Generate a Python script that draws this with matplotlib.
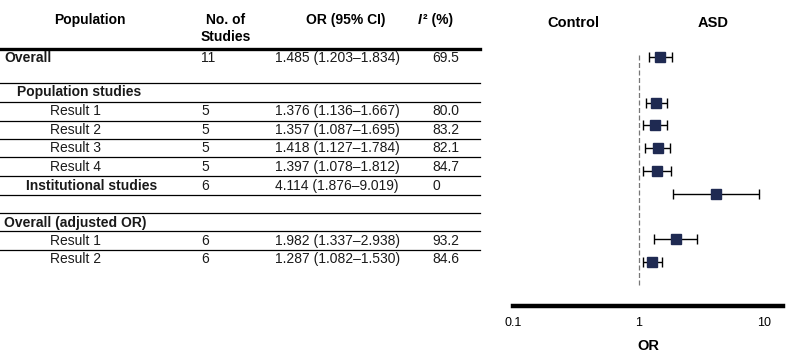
import numpy as np
import matplotlib.pyplot as plt
from matplotlib.lines import Line2D

plt.rcParams['font.family'] = ['Liberation Sans', 'DejaVu Sans']

# table rows
labels = ["Overall", "Population studies", "Result 1", "Result 2", "Result 3", "Result 4",
          "Institutional studies", "Overall (adjusted OR)", "Result 1", "Result 2"]
label_bold = [True, True, False, False, False, False, True, True, False, False]
label_x = [4, 17, 50, 50, 50, 50, 26, 4, 50, 50]
n_studies = ["11", "", "5", "5", "5", "5", "6", "", "6", "6"]
or_text = ["1.485 (1.203\u20131.834)", "", "1.376 (1.136\u20131.667)", "1.357 (1.087\u20131.695)",
           "1.418 (1.127\u20131.784)", "1.397 (1.078\u20131.812)", "4.114 (1.876\u20139.019)", "",
           "1.982 (1.337\u20132.938)", "1.287 (1.082\u20131.530)"]
i2_text = ["69.5", "", "80.0", "83.2", "82.1", "84.7", "0", "", "93.2", "84.6"]
row_y = [58, 92, 111, 130, 148, 167, 186, 223, 241, 259]
rule_y = [83, 102, 121, 139, 157, 176, 195, 213, 231, 250]

# forest plot data
or_val = [1.485, 1.376, 1.357, 1.418, 1.397, 4.114, 1.982, 1.287]
ci_lo = [1.203, 1.136, 1.087, 1.127, 1.078, 1.876, 1.337, 1.082]
ci_hi = [1.834, 1.667, 1.695, 1.784, 1.812, 9.019, 2.938, 1.530]
plot_pos = [0, 2, 3, 4, 5, 6, 8, 9]

W, H = 794, 358
fig = plt.figure(figsize=(W / 100, H / 100), dpi=100)


def fx(x):
    return x / W


def fy(y):
    return 1 - y / H


fs = 10
txt = "#1a1a1a"
# header
fig.text(fx(90), fy(20), "Population", ha="center", va="center", fontsize=fs, fontweight="bold")
fig.text(fx(226), fy(20), "No. of", ha="center", va="center", fontsize=fs, fontweight="bold")
fig.text(fx(226), fy(37), "Studies", ha="center", va="center", fontsize=fs, fontweight="bold")
fig.text(fx(346), fy(20), "OR (95% CI)", ha="center", va="center", fontsize=fs, fontweight="bold")
fig.text(fx(418), fy(20), "I", ha="left", va="center", fontsize=fs, fontweight="bold",
         fontstyle="italic")
fig.text(fx(423), fy(20), "\u00b2 (%)", ha="left", va="center", fontsize=fs, fontweight="bold")

for i in range(len(labels)):
    y = fy(row_y[i])
    fig.text(fx(label_x[i]), y, labels[i], ha="left", va="center", fontsize=fs, color=txt,
             fontweight="bold" if label_bold[i] else "normal")
    fig.text(fx(201), y, n_studies[i], ha="left", va="center", fontsize=fs, color=txt)
    fig.text(fx(275), y, or_text[i], ha="left", va="center", fontsize=fs, color=txt)
    fig.text(fx(432), y, i2_text[i], ha="left", va="center", fontsize=fs, color=txt)

fig.add_artist(Line2D([0, fx(480)], [fy(49), fy(49)], color="black", lw=2.4))
for ry in rule_y:
    fig.add_artist(Line2D([0, fx(480)], [fy(ry), fy(ry)], color="black", lw=0.9))

# forest plot
x0, x1 = 513, 783
ytop, ybot = 40, 306
pitch = 22.8
ax = fig.add_axes([fx(x0), fy(ybot), (x1 - x0) / W, (ybot - ytop) / H])
ax.set_xscale("log")
ax.set_xlim(0.1, 14.1)
ax.set_ylim((ybot - 57) / pitch, (ytop - 57) / pitch)

ax.vlines(1, -0.1, 10.0, colors="#777777", linestyles=(0, (4, 2)), lw=0.9)
xerr = [np.array(or_val) - np.array(ci_lo), np.array(ci_hi) - np.array(or_val)]
ax.errorbar(or_val, plot_pos, xerr=xerr, fmt="s", color="#1f2a52", ms=6.5,
            ecolor="black", elinewidth=1, capsize=3.5, capthick=1)

for s in ["top", "left", "right"]:
    ax.spines[s].set_visible(False)
ax.spines["bottom"].set_linewidth(3.2)
ax.set_yticks([])
ax.set_xticks([0.1, 1, 10])
ax.set_xticklabels(["0.1", "1", "10"])
ax.xaxis.set_minor_locator(plt.NullLocator())
ax.tick_params(axis="x", length=0, pad=8, labelsize=9)
ax.set_xlabel("OR", fontsize=10.5, fontweight="bold", labelpad=7)

fig.text(fx(573), fy(23), "Control", ha="center", va="center", fontsize=10.5, fontweight="bold")
fig.text(fx(713), fy(23), "ASD", ha="center", va="center", fontsize=10.5, fontweight="bold")

fig.savefig("out.png", dpi=100)
